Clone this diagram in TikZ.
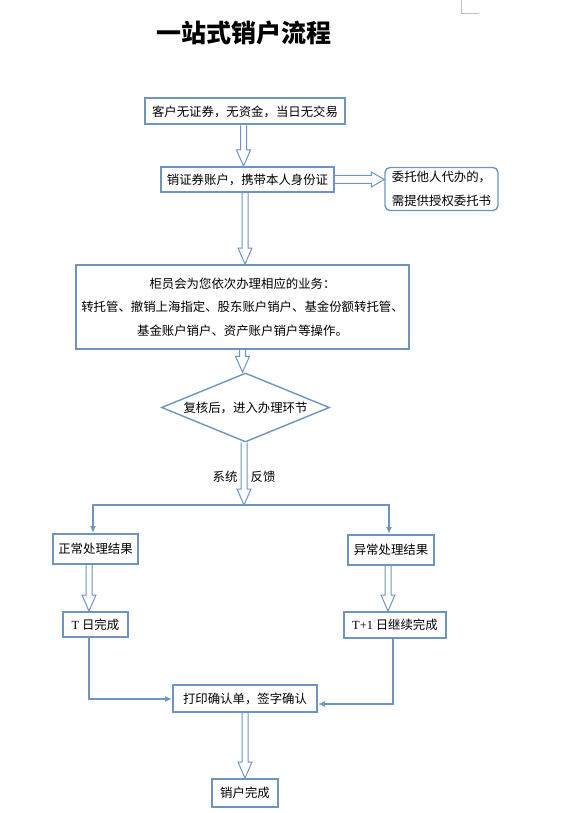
\documentclass[tikz,border=0pt]{standalone}
\usepackage{fontspec}
\setmainfont{Noto Sans CJK SC}
\newfontfamily\latserif{Liberation Serif}
\usetikzlibrary{shapes.geometric,arrows.meta,calc}
\definecolor{bl}{RGB}{110,148,196}
\newcommand{\hollowdown}[2]{%
  \draw[harrow] let \p1=(#1), \p2=(#2) in
    (\x1-3pt,\y1) -- (\x1-3pt,\y2+16pt) -- (\x1-7pt,\y2+16pt) -- (\x1,\y2)
    -- (\x1+7pt,\y2+16pt) -- (\x1+3pt,\y2+16pt) -- (\x1+3pt,\y1);}
\newcommand{\hollowright}[2]{%
  \draw[harrow] let \p1=(#1), \p2=(#2) in
    (\x1,\y1+4pt) -- (\x2-13pt,\y1+4pt) -- (\x2-13pt,\y1+7.5pt) -- (\x2,\y1)
    -- (\x2-13pt,\y1-7.5pt) -- (\x2-13pt,\y1-4pt) -- (\x1,\y1-4pt);}
\begin{document}
\begin{tikzpicture}[x=1pt,y=-1pt,
  box/.style={draw=bl, line width=2pt, fill=white, inner sep=0pt, align=center,
    font=\fontsize{12.4}{23.5}\selectfont},
  harrow/.style={draw=bl, line width=1pt, fill=white, line join=miter},
  conn/.style={draw=bl, line width=1.6pt},
  tip/.style={-{Latex[length=7pt,width=6pt]}},
  lbl/.style={font=\fontsize{12.4}{14}\selectfont, inner sep=0pt}]
\useasboundingbox (0,0) rectangle (561,813);
% page corner mark
\draw[gray!50, line width=0.8pt] (461,0) -- (461,13) -- (479,13);
% title
\node[font=\fontsize{25}{25}\selectfont\bfseries, inner sep=0pt] (title) at (243.5,33) {一站式销户流程};
% boxes
\node[box, minimum width=200, minimum height=26] (b1) at (245,111.5) {客户无证券，无资金，当日无交易};
\node[box, minimum width=173, minimum height=25] (b2) at (247.5,179.5) {销证券账户，携带本人身份证};
\node[box, line width=1.4pt, rounded corners=5pt, minimum width=113, minimum height=43] (b3) at (441.5,189) {委托他人代办的，\\需提供授权委托书};
\node[box, minimum width=333, minimum height=84] (b4) at (242.5,307) {柜员会为您依次办理相应的业务：\\转托管、撤销上海指定、股东账户销户、基金份额转托管、\\基金账户销户、资产账户销户等操作。};
\node[box, diamond, line width=1.4pt, aspect=2.4, minimum width=168, minimum height=69] (dia) at (245.5,407.5) {复核后，进入办理环节};
\coordinate (split) at (244,505);
\node[lbl] (l1) at (225,477) {系统};
\node[lbl] (l2) at (263,477) {反馈};
\node[box, minimum width=85, minimum height=30] (b5) at (95.5,549) {正常处理结果};
\node[box, minimum width=86, minimum height=30] (b6) at (391,550) {异常处理结果};
\node[box, minimum width=65, minimum height=25] (b7) at (95.5,624.5) {{\latserif T} 日完成};
\node[box, minimum width=102, minimum height=26] (b8) at (395,625) {{\latserif T+1} 日继续完成};
\node[box, minimum width=144, minimum height=27] (b9) at (245,698.5) {打印确认单，签字确认};
\node[box, minimum width=66, minimum height=28] (b10) at (245,793) {销户完成};
% hollow arrows
\hollowdown{$(b1.south)+(-1.5,0)$}{$(b2.north)+(-3.5,0)$}
\hollowdown{$(b2.south)+(-2.5,0)$}{$(b4.north)+(2.5,0)$}
\hollowright{b2.east}{b3.west}
\hollowdown{b4.south}{$(dia.north)+(0,0)$}
\hollowdown{$(dia.south)+(-1.5,0)$}{split}
\hollowdown{$(b5.south)+(-6.5,0)$}{$(b7.north)+(-6.5,0)$}
\hollowdown{$(b6.south)+(-3,0)$}{$(b8.north)+(-7,0)$}
\hollowdown{b9.south}{b10.north}
% thin connectors
\draw[conn, tip] (split) -| ([xshift=-2.5]b5.north);
\draw[conn, tip] (split) -| ([xshift=-2]b6.north);
\draw[conn, tip] ([xshift=-6.5]b7.south) |- ([yshift=-0.5]b9.west);
\draw[conn, tip] ([xshift=-2]b8.south) |- ([yshift=-5.5]b9.east);
\end{tikzpicture}
\end{document}
